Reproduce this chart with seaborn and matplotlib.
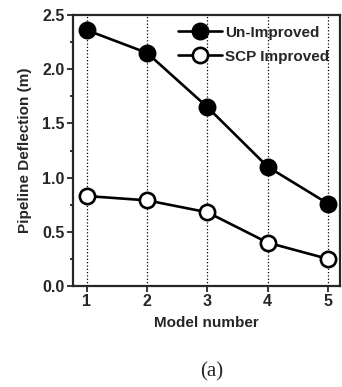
import numpy as np
import pandas as pd
import seaborn as sns
import matplotlib.pyplot as plt

# datos
modelos = [1, 2, 3, 4, 5]
sin_mejora = [2.36, 2.15, 1.65, 1.10, 0.76]
scp_mejorado = [0.83, 0.79, 0.68, 0.40, 0.25]

df = pd.DataFrame({
    'Model number': modelos * 2,
    'Deflection': sin_mejora + scp_mejorado,
    'Serie': ['Un-Improved'] * 5 + ['SCP Improved'] * 5,
})

sns.set_style('ticks')
plt.rcParams['font.family'] = ['Liberation Sans', 'DejaVu Sans']

fig = plt.figure(figsize=(3.42, 3.87), dpi=100)
ax = fig.add_axes([73 / 342, 1 - 286 / 387, 267 / 342, 271 / 387])

for serie, relleno in [('Un-Improved', 'black'), ('SCP Improved', 'white')]:
    sns.lineplot(data=df[df['Serie'] == serie], x='Model number', y='Deflection',
                 ax=ax, color='black', lw=1.9, marker='o', markersize=11,
                 markerfacecolor=relleno, markeredgecolor='black',
                 markeredgewidth=1.9, label=serie, zorder=3)

ax.set_xlim(0.77, 5.2)
ax.set_ylim(0, 2.5)
ax.set_xticks(modelos)
ax.set_yticks(np.arange(0, 2.51, 0.5))
ax.set_yticks(np.arange(0.25, 2.5, 0.5), minor=True)
ax.yaxis.set_major_formatter(plt.FormatStrFormatter('%.1f'))
ax.grid(axis='x', linestyle=':', color='black', lw=0.9)
for s in ax.spines.values():
    s.set_linewidth(1.6)
ax.tick_params(which='both', direction='out', width=1.3, labelsize=11.5, pad=2)
ax.tick_params(which='major', length=4)
ax.tick_params(which='minor', length=2)
for t in ax.get_xticklabels() + ax.get_yticklabels():
    t.set_fontweight('bold')

ax.set_xlabel('Model number', fontsize=11, fontweight='bold', labelpad=5)
ax.set_ylabel('Pipeline Deflection (m)', fontsize=11, fontweight='bold', labelpad=7)
leg = ax.legend(loc='upper right', frameon=False, handlelength=2.9,
                handletextpad=0.2, borderaxespad=0.3, labelspacing=0.65,
                prop={'size': 11, 'weight': 'bold'})

fig.text(212 / 342, 1 - 372 / 387, '(a)', ha='center', va='center',
         fontsize=15, family='Liberation Serif')

plt.savefig('out.png', dpi=100)
